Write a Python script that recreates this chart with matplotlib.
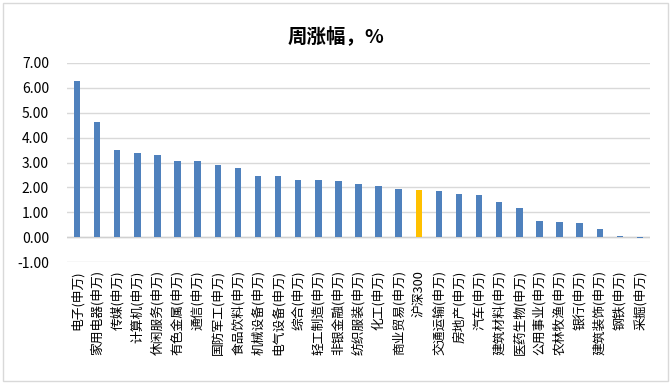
import matplotlib
matplotlib.use('Agg')
import matplotlib.pyplot as plt
from matplotlib.patches import Rectangle

plt.rcParams['font.family'] = ['Noto Sans CJK SC', 'DejaVu Sans']

# weekly change by industry (SW), %
categories = [
    '电子(申万)', '家用电器(申万)', '传媒(申万)', '计算机(申万)', '休闲服务(申万)',
    '有色金属(申万)', '通信(申万)', '国防军工(申万)', '食品饮料(申万)', '机械设备(申万)',
    '电气设备(申万)', '综合(申万)', '轻工制造(申万)', '非银金融(申万)', '纺织服装(申万)',
    '化工(申万)', '商业贸易(申万)', '沪深300', '交通运输(申万)', '房地产(申万)',
    '汽车(申万)', '建筑材料(申万)', '医药生物(申万)', '公用事业(申万)', '农林牧渔(申万)',
    '银行(申万)', '建筑装饰(申万)', '钢铁(申万)', '采掘(申万)',
]
values = [
    6.29, 4.64, 3.51, 3.39, 3.31,
    3.07, 3.07, 2.91, 2.79, 2.47,
    2.47, 2.31, 2.31, 2.27, 2.14,
    2.06, 1.94, 1.90, 1.86, 1.74,
    1.70, 1.42, 1.18, 0.66, 0.62,
    0.58, 0.34, 0.05, -0.05,
]
highlight = '沪深300'
yticks = [-1, 0, 1, 2, 3, 4, 5, 6, 7]

W, H = 671, 385
fig = plt.figure(figsize=(W / 100, H / 100), dpi=100)
ax = fig.add_axes([67 / W, 1 - 262 / H, (650 - 67) / W, (262 - 63) / H])

colors = ['#FFC000' if c == highlight else '#4F81BD' for c in categories]
x = list(range(len(categories)))
ax.bar(x, values, width=0.32, color=colors, zorder=3)

ax.set_ylim(-1, 7)
ax.set_xlim(-0.5, len(categories) - 0.5)
ax.set_yticks(yticks)
ax.set_yticklabels([f'{v:.2f}' for v in yticks], fontsize=10)
ax.yaxis.grid(True, color='#d9d9d9', linewidth=1.0, zorder=0)
ax.axhline(0, color='#d0d0d0', linewidth=1.0, zorder=2)
ax.tick_params(axis='y', length=0, pad=13)
ax.tick_params(axis='x', length=0, pad=6)
ax.set_xticks(x)
ax.set_xticklabels(categories, rotation=90, fontsize=9.2, va='top', ha='center')
for s in ax.spines.values():
    s.set_visible(False)

fig.text(0.5, 1 - 36 / H, '周涨幅，%', ha='center', va='center', fontsize=14, fontweight='bold')

fig.patches.append(Rectangle((3 / W, 4 / H), 665 / W, 378 / H, transform=fig.transFigure,
                             fill=False, edgecolor='#d9d9d9', linewidth=1.0))

fig.savefig('out.png', dpi=100)
